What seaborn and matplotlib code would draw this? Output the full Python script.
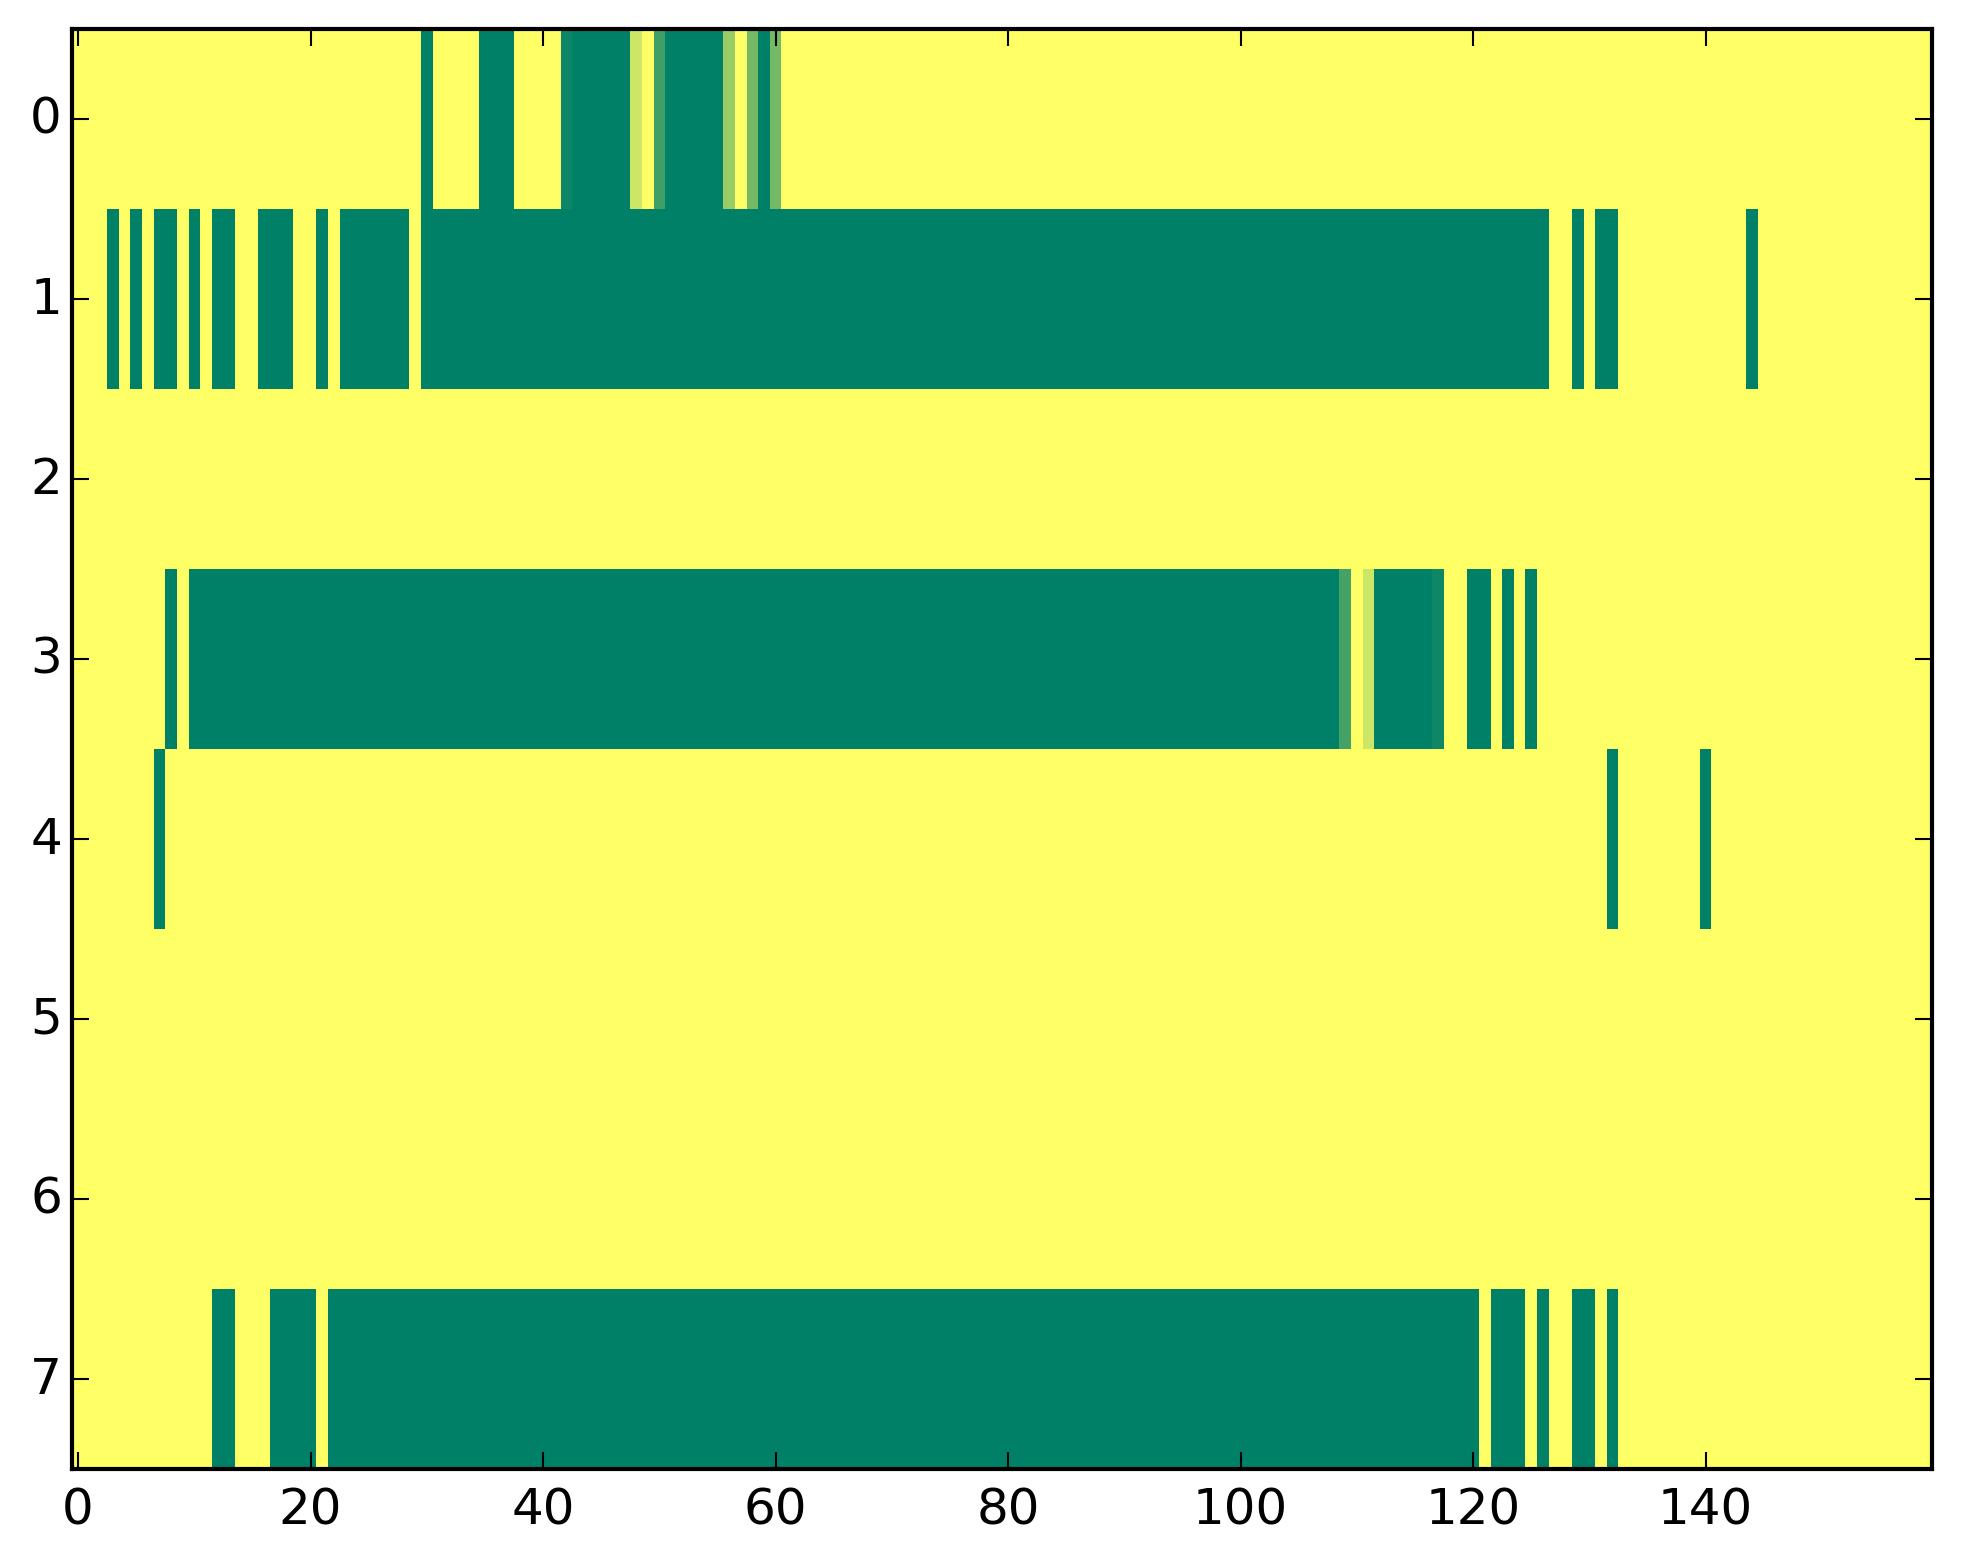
import numpy as np
import pandas as pd
import matplotlib
matplotlib.use("Agg")
import matplotlib.pyplot as plt
import seaborn as sns

N_COLS = 160
ROW_LABELS = ["0", "1", "2", "3", "4", "5", "6", "7"]
X_TICK_LABELS = ["0", "20", "40", "60", "80", "100", "120", "140"]

# Each entry: (first column, last column, value) ; all other cells are 0
row0 = [(30, 30, 1.0), (35, 37, 1.0), (42, 42, 0.95), (43, 47, 1.0), (48, 48, 0.2),
        (50, 50, 0.75), (51, 55, 1.0), (56, 56, 0.4), (58, 58, 0.55), (59, 59, 1.0),
        (60, 60, 0.55)]
row1 = [(3, 3, 1.0), (5, 5, 1.0), (7, 8, 1.0), (10, 10, 1.0), (12, 13, 1.0),
        (16, 18, 1.0), (21, 21, 1.0), (23, 28, 1.0), (30, 126, 1.0), (129, 129, 1.0),
        (131, 132, 1.0), (144, 144, 1.0)]
row2 = []
row3 = [(8, 8, 1.0), (10, 108, 1.0), (109, 109, 0.73), (111, 111, 0.2), (112, 116, 1.0),
        (117, 117, 0.94), (120, 121, 1.0), (123, 123, 1.0), (125, 125, 1.0)]
row4 = [(7, 7, 1.0), (132, 132, 1.0), (140, 140, 1.0)]
row5 = []
row6 = []
row7 = [(12, 13, 1.0), (17, 20, 1.0), (22, 120, 1.0), (122, 124, 1.0), (126, 126, 1.0),
        (129, 130, 1.0), (132, 132, 1.0)]

rows = [row0, row1, row2, row3, row4, row5, row6, row7]
data = np.zeros((len(rows), N_COLS))
for r, runs in enumerate(rows):
    for a, b, v in runs:
        data[r, a:b + 1] = v
df = pd.DataFrame(data, index=ROW_LABELS)

plt.style.use("classic")
fig, ax = plt.subplots(figsize=(8, 6))
sns.heatmap(df, ax=ax, cmap="summer_r", vmin=0, vmax=1, cbar=False,
            xticklabels=False, yticklabels=False)

for s in ax.spines.values():
    s.set_visible(True)
    s.set_linewidth(1.0)
    s.set_color("black")

ax.set_xticks([int(t) + 0.5 for t in X_TICK_LABELS])
ax.set_xticklabels(X_TICK_LABELS, rotation=0)
ax.set_yticks([int(t) + 0.5 for t in ROW_LABELS])
ax.set_yticklabels(ROW_LABELS, rotation=0, va="center")
ax.tick_params(axis="both", which="major", direction="in", length=4, width=0.5,
               top=True, right=True, labelsize=12)
ax.tick_params(axis="x", pad=4)
ax.tick_params(axis="y", pad=2.5)
ax.set_xlabel("")
ax.set_ylabel("")

fig.savefig("out.png", dpi=300, bbox_inches="tight")
